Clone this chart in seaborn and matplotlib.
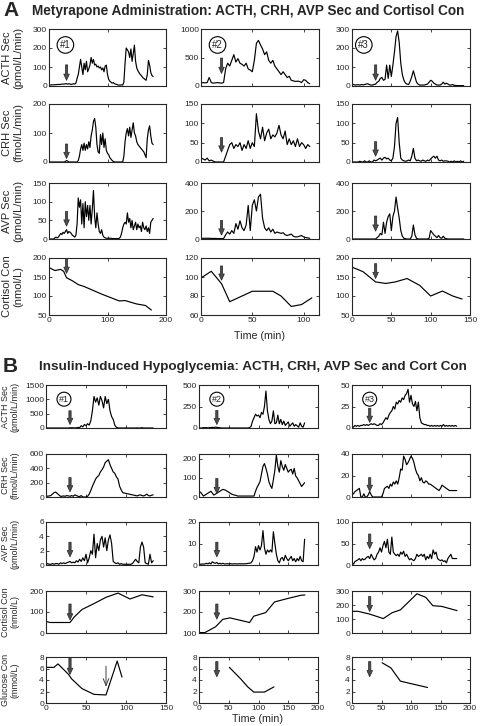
import numpy as np
import matplotlib
matplotlib.use("Agg")
import matplotlib.pyplot as plt
import seaborn as sns

# sampling grids (min)
t_a1 = np.arange(0, 180, 2)
t_a2 = np.arange(0, 108, 2)
t_a3 = np.arange(0, 144, 2)
t_b1 = np.arange(0, 136, 2)
t_b2 = np.arange(0, 180, 2.5)
t_b3 = np.arange(0, 180, 2.5)

# ---- A: Metyrapone ----
a_acth1 = [5, 5, 6, 6, 6, 7, 7, 8, 8, 8,
           9, 10, 10, 10, 12, 12, 10, 12, 10, 8,
           10, 12, 10, 15, 40, 60, 100, 140, 100, 60,
           120, 85, 130, 75, 90, 110, 150, 120, 140, 110,
           115, 100, 105, 95, 100, 85, 95, 75, 105, 110,
           60, 35, 25, 20, 15, 18, 12, 10, 8, 5,
           5, 5, 6, 5, 20, 120, 200, 190, 180, 150,
           195, 130, 170, 215, 130, 95, 80, 70, 60, 55,
           45, 40, 35, 30, 60, 135, 110, 70, 55, 50]
a_crh1 = [0, 0, 0, 0, 0, 0, 0, 0, 0, 0,
          0, 0, 0, 0, 2, 5, 3, 0, 0, 0,
          0, 0, 0, 0, 0, 5, 20, 45, 60, 40,
          65, 40, 60, 45, 70, 50, 90, 110, 140, 150,
          120, 60, 35, 30, 95, 60, 100, 50, 80, 40,
          30, 25, 15, 10, 5, 2, 0, 0, 0, 0,
          0, 0, 0, 0, 20, 70, 100, 115, 90, 120,
          85, 110, 135, 100, 90, 70, 60, 55, 50, 45,
          40, 35, 25, 15, 80, 110, 125, 90, 65, 60]
a_avp1 = [0, 0, 0, 0, 0, 3, 5, 3, 5, 10,
          15, 12, 18, 15, 20, 25, 15, 20, 18, 15,
          10, 8, 5, 10, 40, 110, 85, 105, 40, 95,
          30, 100, 60, 90, 50, 90, 40, 80, 130, 60,
          30, 70, 40, 20, 15, 25, 10, 5, 3, 2,
          2, 2, 2, 2, 1, 1, 1, 1, 1, 1,
          2, 5, 15, 30, 40, 45, 40, 70, 45, 55,
          30, 50, 25, 35, 45, 25, 40, 30, 35, 20,
          45, 30, 25, 35, 20, 30, 15, 45, 50, 55]
a_cort1_t = [0, 10, 20, 25, 30, 40, 50, 60, 90, 120, 130, 150, 165, 175]
a_cort1 = [175, 167, 170, 165, 148, 140, 130, 125, 105, 87, 88, 79, 75, 63]

a_acth2 = [50, 60, 55, 60, 150, 60, 50, 55, 60, 55,
           50, 60, 300, 400, 350, 450, 550, 420, 480, 400,
           380, 350, 400, 300, 280, 250, 450, 750, 800, 720,
           650, 550, 600, 450, 400, 450, 350, 300, 250, 200,
           250, 200, 150, 170, 100, 90, 80, 85, 80, 60,
           110, 100, 60, 40]
a_crh2 = [10, 8, 5, 10, 3, 5, 2, 0, 0, 0,
          0, 0, 15, 30, 45, 50, 35, 45, 40, 50,
          30, 45, 35, 55, 35, 50, 40, 125, 80, 60,
          90, 55, 75, 85, 60, 70, 65, 75, 95, 70,
          60, 80, 45, 60, 45, 55, 40, 60, 40, 50,
          45, 35, 45, 40]
a_avp2 = [5, 5, 5, 5, 5, 4, 4, 4, 3, 3,
          3, 3, 30, 50, 35, 60, 40, 110, 70, 130,
          80, 60, 100, 240, 60, 240, 280, 200, 300, 320,
          150, 80, 60, 80, 50, 70, 40, 50, 45, 40,
          45, 30, 25, 30, 35, 20, 15, 15, 20, 25,
          15, 10, 8, 5]
a_cort2_t = [0, 10, 20, 28, 40, 50, 70, 78, 88, 98, 108]
a_cort2 = [99, 106, 93, 74, 80, 85, 85, 80, 69, 71, 78]

a_acth3 = [5, 8, 5, 6, 7, 5, 8, 6, 8, 10,
           12, 8, 5, 5, 8, 10, 20, 25, 40, 45,
           30, 35, 110, 40, 110, 50, 110, 180, 260, 290,
           230, 120, 60, 30, 15, 10, 8, 25, 50, 80,
           50, 20, 10, 5, 5, 5, 5, 8, 10, 20,
           30, 25, 15, 10, 5, 5, 5, 10, 20, 10,
           15, 10, 5, 5, 8, 3, 3, 2, 2, 2,
           2, 2]
a_crh3 = [0, 0, 0, 0, 0, 2, 0, 0, 3, 0,
          0, 3, 0, 0, 5, 3, 5, 8, 10, 5,
          10, 12, 8, 10, 5, 3, 10, 40, 100, 115,
          50, 10, 5, 3, 2, 3, 5, 3, 15, 35,
          10, 3, 5, 3, 2, 5, 3, 2, 5, 3,
          8, 12, 15, 10, 15, 5, 3, 5, 2, 3,
          3, 2, 0, 2, 0, 3, 0, 2, 0, 3,
          0, 2]
a_avp3 = [0, 0, 0, 0, 0, 0, 0, 0, 0, 0,
          0, 0, 0, 0, 0, 0, 10, 20, 40, 30,
          120, 40, 120, 160, 180, 60, 160, 200, 300, 220,
          150, 60, 20, 5, 2, 0, 0, 0, 20, 100,
          30, 5, 0, 0, 0, 0, 0, 0, 0, 5,
          60, 45, 30, 20, 10, 25, 10, 5, 20, 5,
          2, 0, 0, 0, 0, 0, 0, 0, 0, 0,
          0, 0]
a_cort3_t = [0, 14, 30, 43, 55, 70, 86, 100, 115, 128, 140]
a_cort3 = [176, 164, 137, 133, 137, 146, 128, 100, 113, 100, 92]

# ---- B: Insulin-induced hypoglycemia ----
b_acth1 = [0, 0, 0, 0, 0, 0, 0, 0, 0, 0,
           0, 0, 0, 0, 0, 5, 10, 5, 5, 5,
           20, 10, 80, 40, 120, 80, 150, 100, 250, 600,
           1100, 900, 1050, 800, 1100, 950, 700, 1100, 850, 1000,
           600, 400, 300, 100, 20, 5, 0, 0, 0, 0,
           0, 0, 0, 0, 0, 0, 0, 5, 0, 0,
           10, 0, 0, 0, 0, 0, 0, 0]
b_crh1 = [20, 10, 15, 20, 40, 60, 70, 50, 30, 10,
          10, 15, 10, 20, 15, 10, 20, 10, 30, 20,
          10, 5, 20, 0, 0, 0, 10, 40, 90, 150,
          200, 250, 280, 300, 350, 380, 420, 480, 500, 520,
          450, 400, 350, 330, 280, 250, 150, 100, 60, 55,
          50, 45, 40, 35, 30, 25, 20, 15, 25, 30,
          20, 15, 25, 40, 20, 15, 25, 30]
b_avp1 = [0.1, 0.2, 0.1, 0.1, 0.2, 0.1, 0.2, 0.2, 0.1, 0.3,
          0.2, 0.3, 0.2, 0.3, 0.4, 0.5, 0.3, 0.4, 0.3, 0.6,
          0.4, 0.8, 0.5, 1.0, 0.6, 1.5, 0.3, 1.0, 2.0, 1.5,
          4.3, 1.0, 3.0, 2.0, 3.5, 4.0, 2.5, 3.8, 2.0, 3.5,
          4.2, 3.0, 0.5, 0.3, 0.2, 0.3, 0.1, 0.2, 0.1, 0.1,
          0.1, 0.1, 0.1, 0.1, 0.2, 0.5, 0.8, 0.5, 0.3, 2.5,
          3.2, 2.5, 0.3, 0.2, 0.1, 1.5, 0.3, 0.6]
b_cort1_t = [0, 5, 30, 35, 45, 60, 75, 90, 105, 120, 134]
b_cort1 = [55, 50, 50, 75, 112, 140, 170, 190, 162, 182, 172]
b_gluc1_t = [0, 10, 15, 28, 32, 45, 60, 75, 89, 95]
b_gluc1 = [6.2, 6.2, 6.8, 5.0, 4.2, 2.5, 1.5, 1.4, 7.3, 4.5]

b_acth2 = [0, 0, 0, 5, 3, 5, 0, 5, 3, 8,
           5, 10, 8, 5, 3, 0, 0, 0, 0, 0,
           0, 0, 0, 0, 0, 0, 0, 0, 0, 0,
           0, 0, 0, 0, 5, 20, 80, 120, 160, 140,
           150, 120, 180, 160, 250, 430, 200, 100, 50, 80,
           200, 50, 60, 150, 50, 100, 40, 80, 30, 50,
           70, 20, 40, 60, 20, 40, 25, 10, 60, 20,
           10, 60]
b_crh2 = [30, 25, 15, 5, 10, 15, 20, 25, 30, 20,
          10, 15, 20, 25, 30, 35, 40, 38, 35, 30,
          25, 20, 15, 12, 10, 8, 5, 5, 5, 5,
          5, 5, 5, 5, 5, 5, 5, 5, 30, 50,
          65, 80, 120, 160, 175, 150, 120, 80, 60, 45,
          90, 140, 220, 160, 130, 190, 160, 140, 170, 150,
          130, 140, 145, 120, 150, 110, 100, 85, 70, 55,
          65, 75]
b_avp2 = [0.5, 0.3, 0.5, 0.4, 0.5, 0.8, 0.5, 1.0, 0.5, 1.5,
          1.0, 0.8, 1.2, 0.5, 0.8, 0.5, 0.8, 0.5, 0.5, 0.6,
          0.5, 0.6, 0.5, 0.5, 0.6, 0.5, 0.5, 0.6, 0.5, 0.6,
          0.5, 0.6, 0.6, 0.8, 0.8, 1.0, 2.0, 4.0, 8.5, 6.0,
          9.0, 7.0, 9.0, 16.0, 8.0, 5.0, 7.0, 6.0, 7.0, 6.0,
          15.5, 10.0, 5.0, 2.0, 1.0, 3.0, 3.5, 2.0, 4.5, 3.0,
          2.0, 3.0, 4.0, 2.0, 3.0, 1.5, 3.0, 2.0, 4.0, 2.0,
          1.5, 12.0]
b_cort2_t = [0, 10, 28, 40, 52, 85, 92, 112, 127, 150, 172, 178]
b_cort2 = [102, 102, 130, 165, 172, 150, 180, 197, 248, 265, 280, 281]
b_gluc2_t = [51, 70, 82, 92, 110, 126]
b_gluc2 = [6.2, 4.2, 2.8, 1.9, 1.9, 2.8]

b_acth3 = [2, 1, 3, 2, 3, 2, 3, 3, 4, 3,
           4, 3, 4, 5, 4, 5, 4, 3, 3, 5,
           4, 6, 9, 12, 10, 15, 18, 20, 25, 22,
           30, 28, 32, 30, 35, 33, 38, 40, 45, 30,
           38, 28, 25, 31, 20, 30, 12, 6, 5, 4,
           4, 3, 3, 2, 3, 2, 3, 2, 3, 2,
           3, 2, 4, 2, 3, 2, 3, 2, 3, 2,
           3, 2]
b_crh3 = [2, 3, 5, 6, 7, 8, 0, 0, 3, 0,
          0, 2, 5, 2, 0, 0, 0, 0, 0, 0,
          0, 3, 8, 9, 10, 8, 12, 10, 14, 12,
          15, 12, 18, 26, 25, 38, 35, 30, 32, 35,
          38, 36, 32, 26, 22, 20, 15, 18, 14, 13,
          15, 14, 12, 12, 11, 10, 9, 8, 7, 6,
          8, 11, 10, 9, 8, 7, 6, 6, 6, 6,
          6, 6]
b_avp3 = [5, 2, 8, 10, 12, 15, 10, 15, 12, 14,
          18, 20, 15, 25, 18, 12, 15, 25, 30, 40,
          30, 45, 55, 40, 60, 30, 25, 65, 30, 25,
          22, 25, 20, 30, 25, 32, 20, 25, 18, 12,
          15, 12, 10, 15, 25, 20, 22, 25, 20, 25,
          12, 20, 15, 25, 15, 35, 25, 30, 15, 12,
          10, 12, 8, 10, 5, 15, 20, 25, 15, 15,
          15, 15]
b_cort3_t = [0, 10, 30, 53, 68, 82, 110, 125, 137, 152, 165, 178]
b_cort3 = [155, 155, 135, 103, 145, 165, 280, 255, 195, 190, 175, 160]
b_gluc3_t = [51, 66, 82, 128]
b_gluc3 = [7.0, 6.1, 3.8, 2.7]

labels_a = [("ACTH Sec", "(pmol/L/min)"), ("CRH Sec", "(fmol/L/min)"),
            ("AVP Sec", "(pmol/L/min)"), ("Cortisol Con", "(nmol/L)")]
labels_b = labels_a + [("Glucose Con", "(mmol/L)")]

sns.set_style("ticks")
plt.rcParams['font.family'] = ['Liberation Sans', 'DejaVu Sans']

W, H = 480, 726
fig = plt.figure(figsize=(4.8, 7.26), dpi=100)


def px_axes(xs, ys):
    return fig.add_axes([xs[0] / W, 1 - ys[1] / H, (xs[1] - xs[0]) / W, (ys[1] - ys[0]) / H])


def block_arrow(ax, x, tip, tail):
    tr = ax.get_xaxis_transform()
    ax.annotate('', xy=(x, tip), xytext=(x, tail), xycoords=tr, textcoords=tr,
                arrowprops=dict(arrowstyle='simple,head_length=0.5,head_width=0.45,tail_width=0.18',
                                fc='0.3', ec='0.15', lw=0.5, mutation_scale=9,
                                shrinkA=0, shrinkB=0))


def panel(ax, t, v, xlim, xticks, ylim, yticks, bottom, fs):
    sns.lineplot(x=np.asarray(t, float), y=np.asarray(v, float), ax=ax, color='k', linewidth=0.85)
    ax.set_xlim(xlim)
    ax.set_ylim(ylim)
    ax.set_xticks(xticks)
    ax.set_yticks(yticks)
    ax.tick_params(direction='in', top=True, right=True, length=2.5, width=0.6,
                   labelsize=fs, pad=1.5)
    if not bottom:
        ax.set_xticklabels([])
    ax.set_xlabel('')
    ax.set_ylabel('')
    for s in ax.spines.values():
        s.set_linewidth(0.8)


# ---- section A ----
a_cols = [(49, 166), (201, 319), (352, 470)]
a_rows = [(29, 86), (104, 162), (183, 239), (258, 315)]
a_xlim = [(0, 200), (0, 115), (0, 150)]
a_xticks = [[0, 100, 200], [0, 50, 100], [0, 50, 100, 150]]
a_arrow_x = [30, 20, 30]
a_data = [
    [(t_a1, a_acth1, (0, 300), [0, 100, 200, 300]),
     (t_a2, a_acth2, (0, 1000), [0, 500, 1000]),
     (t_a3, a_acth3, (0, 300), [0, 100, 200, 300])],
    [(t_a1, a_crh1, (0, 200), [0, 100, 200]),
     (t_a2, a_crh2, (0, 150), [0, 50, 100, 150]),
     (t_a3, a_crh3, (0, 150), [0, 50, 100, 150])],
    [(t_a1, a_avp1, (0, 150), [0, 50, 100, 150]),
     (t_a2, a_avp2, (0, 400), [0, 200, 400]),
     (t_a3, a_avp3, (0, 400), [0, 200, 400])],
    [(a_cort1_t, a_cort1, (50, 200), [50, 100, 150, 200]),
     (a_cort2_t, a_cort2, (60, 120), [60, 80, 100, 120]),
     (a_cort3_t, a_cort3, (50, 200), [50, 100, 150, 200])],
]
a_arrow_y = [[(0.10, 0.37), (0.22, 0.49), (0.10, 0.37)],
             [(0.06, 0.31), (0.17, 0.42), (0.10, 0.35)],
             [(0.23, 0.49), (0.07, 0.33), (0.14, 0.41)],
             [(0.73, 0.99), (0.61, 0.86), (0.64, 0.90)]]

for r in range(4):
    for c in range(3):
        ax = px_axes(a_cols[c], a_rows[r])
        t, v, yl, yt = a_data[r][c]
        panel(ax, t, v, a_xlim[c], a_xticks[c], yl, yt, r == 3, 6)
        block_arrow(ax, a_arrow_x[c], *a_arrow_y[r][c])
        if r == 0:
            ax.text([0.14, 0.14, 0.10][c], 0.72, '#%d' % (c + 1), transform=ax.transAxes,
                    ha='center', va='center', fontsize=7,
                    bbox=dict(boxstyle='circle,pad=0.3', fc='white', ec='k', lw=0.8))
    yc = 1 - (a_rows[r][0] + a_rows[r][1]) / 2 / H
    fig.text(7 / W, yc, labels_a[r][0], rotation=90, ha='center', va='center', fontsize=8)
    fig.text(18.5 / W, yc, labels_a[r][1], rotation=90, ha='center', va='center', fontsize=8)

fig.text(3 / W, 1 - 11 / H, 'A', fontsize=15, fontweight='bold', va='center')
fig.text(32 / W, 1 - 11 / H, 'Metyrapone Administration: ACTH, CRH, AVP Sec and Cortisol Con',
         fontsize=9.8, fontweight='bold', va='center')
fig.text(260 / W, 1 - 336 / H, 'Time (min)', fontsize=7.7, ha='center', va='center')

# ---- section B ----
b_cols = [(46, 166), (199, 318), (352, 470)]
b_rows = [(385, 428), (454, 497), (522, 565), (591, 633), (657, 703)]
b_xlim = [(0, 150), (0, 200), (0, 200)]
b_xticks = [[0, 50, 100, 150], [0, 50, 100, 150, 200], [0, 50, 100, 150, 200]]
b_data = [
    [(t_b1, b_acth1, (0, 1500), [0, 500, 1000, 1500]),
     (t_b2, b_acth2, (0, 500), [0, 250, 500]),
     (t_b3, b_acth3, (0, 50), [0, 25, 50])],
    [(t_b1, b_crh1, (0, 600), [0, 200, 400, 600]),
     (t_b2, b_crh2, (0, 225), [0, 100, 200]),
     (t_b3, b_crh3, (0, 40), [0, 20, 40])],
    [(t_b1, b_avp1, (0, 6), [0, 2, 4, 6]),
     (t_b2, b_avp2, (0, 20), [0, 10, 20]),
     (t_b3, b_avp3, (0, 100), [0, 50, 100])],
    [(b_cort1_t, b_cort1, (0, 200), [0, 100, 200]),
     (b_cort2_t, b_cort2, (100, 300), [100, 200, 300]),
     (b_cort3_t, b_cort3, (0, 300), [0, 100, 200, 300])],
    [(b_gluc1_t, b_gluc1, (0, 8), [0, 2, 4, 6, 8]),
     (b_gluc2_t, b_gluc2, (0, 8), [0, 2, 4, 6, 8]),
     (b_gluc3_t, b_gluc3, (0, 8), [0, 2, 4, 6, 8])],
]
b_arrow_y = [[(0.08, 0.40), (0.08, 0.41), (0.13, 0.46)],
             [(0.12, 0.45), (0.08, 0.43), (0.13, 0.45)],
             [(0.19, 0.53), (0.19, 0.53), (0.38, 0.72)],
             [(0.31, 0.69), (0.33, 0.69), (0.51, 0.87)],
             [(0.62, 0.97), (0.57, 0.90), (0.57, 0.90)]]

for r in range(5):
    for c in range(3):
        ax = px_axes(b_cols[c], b_rows[r])
        t, v, yl, yt = b_data[r][c]
        panel(ax, t, v, b_xlim[c], b_xticks[c], yl, yt, r == 4, 6)
        block_arrow(ax, 30, *b_arrow_y[r][c])
        if r == 0:
            ax.text(0.15, 0.67, '#%d' % (c + 1), transform=ax.transAxes,
                    ha='center', va='center', fontsize=6.5,
                    bbox=dict(boxstyle='circle,pad=0.22', fc='white', ec='k', lw=0.8))
        if r == 4 and c == 0:
            tr = ax.get_xaxis_transform()
            ax.annotate('', xy=(75, 0.35), xytext=(75, 0.80), xycoords=tr, textcoords=tr,
                        arrowprops=dict(arrowstyle='->,head_length=0.5,head_width=0.2',
                                        color='0.25', lw=0.7, shrinkA=0, shrinkB=0))
    yc = 1 - (b_rows[r][0] + b_rows[r][1]) / 2 / H
    fig.text(6 / W, yc, labels_b[r][0], rotation=90, ha='center', va='center', fontsize=6.5)
    fig.text(14.5 / W, yc, labels_b[r][1], rotation=90, ha='center', va='center', fontsize=6.5)

fig.text(3 / W, 1 - 367 / H, 'B', fontsize=15, fontweight='bold', va='center')
fig.text(39 / W, 1 - 367 / H, 'Insulin-Induced Hypoglycemia: ACTH, CRH, AVP Sec and Cort Con',
         fontsize=9.7, fontweight='bold', va='center')
fig.text(258 / W, 1 - 719 / H, 'Time (min)', fontsize=7.7, ha='center', va='center')

fig.savefig('out.png', dpi=100, facecolor='white')
